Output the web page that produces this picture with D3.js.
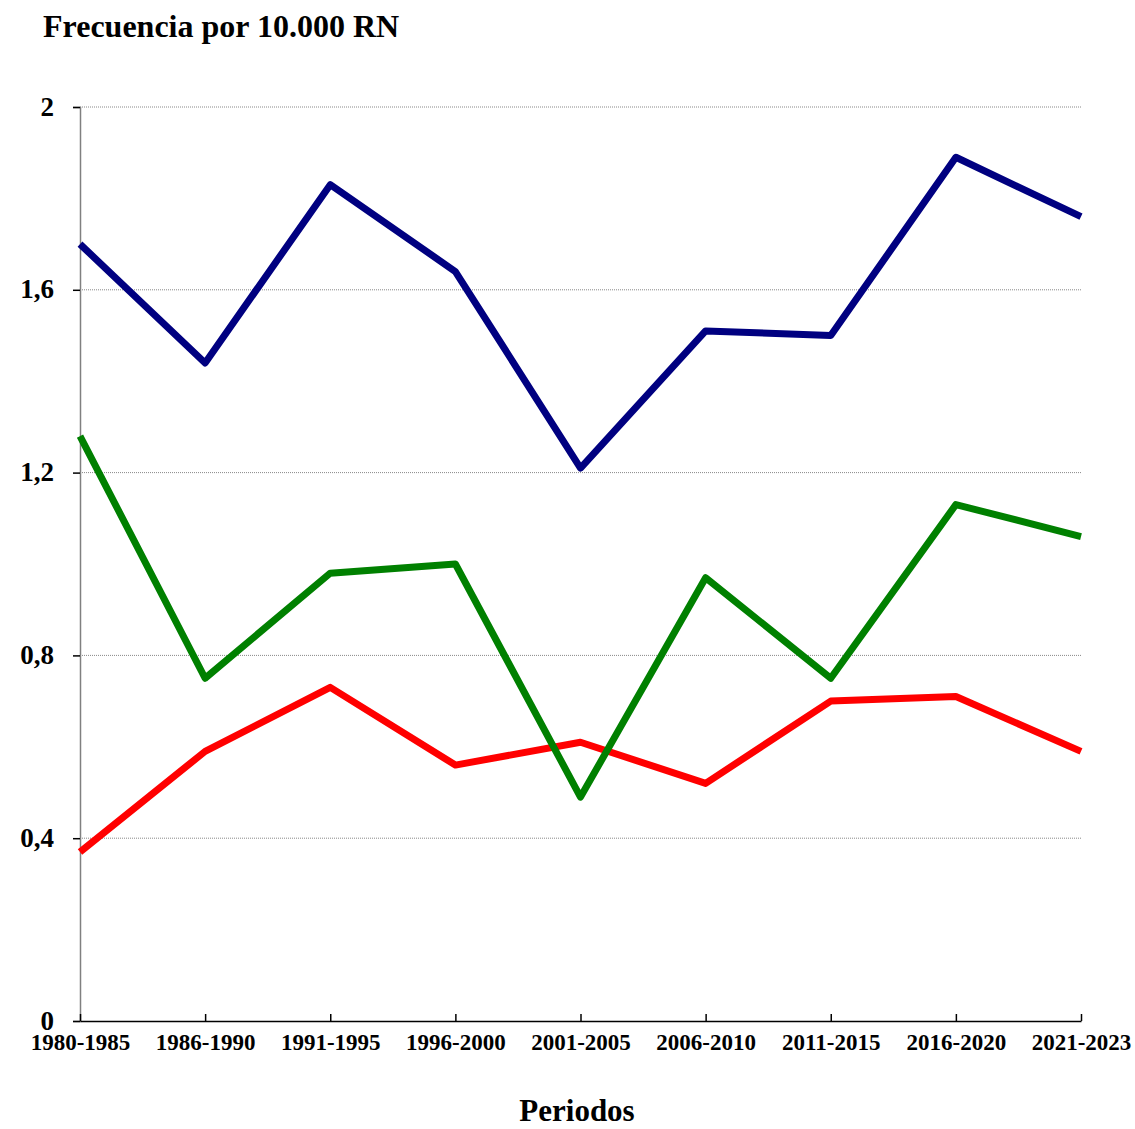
<!DOCTYPE html>
<html><head><meta charset="utf-8">
<script src="https://cdn.jsdelivr.net/npm/d3@7"></script>
<style>body{margin:0;background:#fff}svg{display:block}text{font-family:"Liberation Serif","Times New Roman",serif;font-weight:bold;fill:#000}</style>
</head><body><svg id="c" width="1135" height="1129"></svg>
<script>
const categories = ["1980-1985","1986-1990","1991-1995","1996-2000","2001-2005","2006-2010","2011-2015","2016-2020","2021-2023"];
const seriesBlue  = [1.70,1.44,1.83,1.64,1.21,1.51,1.50,1.89,1.76];
const seriesGreen = [1.28,0.75,0.98,1.00,0.49,0.97,0.75,1.13,1.06];
const seriesRed   = [0.37,0.59,0.73,0.56,0.61,0.52,0.70,0.71,0.59];
const yTicks = [0,0.4,0.8,1.2,1.6,2];
const yTickLabels = ["0","0,4","0,8","1,2","1,6","2"];

const svg = d3.select("#c");
const L=80,R=1081,T=107,B=1021;
const x = d3.scalePoint().domain(categories).range([L,R]).padding(0);
const y = d3.scaleLinear().domain([0,2]).range([B,T]);

// grid
svg.append("g").selectAll("line").data(yTicks.filter(d=>d>0)).join("line")
  .attr("x1",L).attr("x2",R).attr("y1",d=>y(d)).attr("y2",d=>y(d))
  .attr("stroke","#888").attr("stroke-width",1).attr("stroke-dasharray","1,1");

// y axis
const ya = svg.append("g").attr("transform",`translate(${L},0)`)
  .call(d3.axisLeft(y).tickValues(yTicks).tickFormat((d,i)=>yTickLabels[i]).tickSize(7).tickPadding(19));
ya.select(".domain").attr("stroke","#808080").attr("stroke-width",1.5);
ya.selectAll(".tick line").attr("stroke","#000").attr("stroke-width",1.5);
ya.selectAll("text").attr("font-size",27).attr("dy","0.3em").style("font-family",'"Liberation Serif",serif').style("font-weight","bold");

// x axis
const xa = svg.append("g").attr("transform",`translate(0,${B})`)
  .call(d3.axisBottom(x).tickSize(-7).tickSizeOuter(0).tickPadding(13));
xa.select(".domain").attr("stroke","#000").attr("stroke-width",1.5);
xa.selectAll(".tick line").attr("stroke","#000").attr("stroke-width",1.5);
xa.selectAll("text").attr("font-size",23).style("font-family",'"Liberation Serif",serif').style("font-weight","bold");

const line = d3.line().x((d,i)=>x(categories[i])).y(d=>y(d));
[[seriesRed,"#ff0000"],[seriesGreen,"#008000"],[seriesBlue,"#000080"]].forEach(([s,c])=>{
  svg.append("path").datum(s).attr("d",line).attr("fill","none")
    .attr("stroke",c).attr("stroke-width",7).attr("stroke-linejoin","round");
});

svg.append("text").attr("x",43).attr("y",37).attr("font-size",32).text("Frecuencia por 10.000 RN");
svg.append("text").attr("x",577).attr("y",1121).attr("text-anchor","middle").attr("font-size",31).text("Periodos");
</script></body></html>
